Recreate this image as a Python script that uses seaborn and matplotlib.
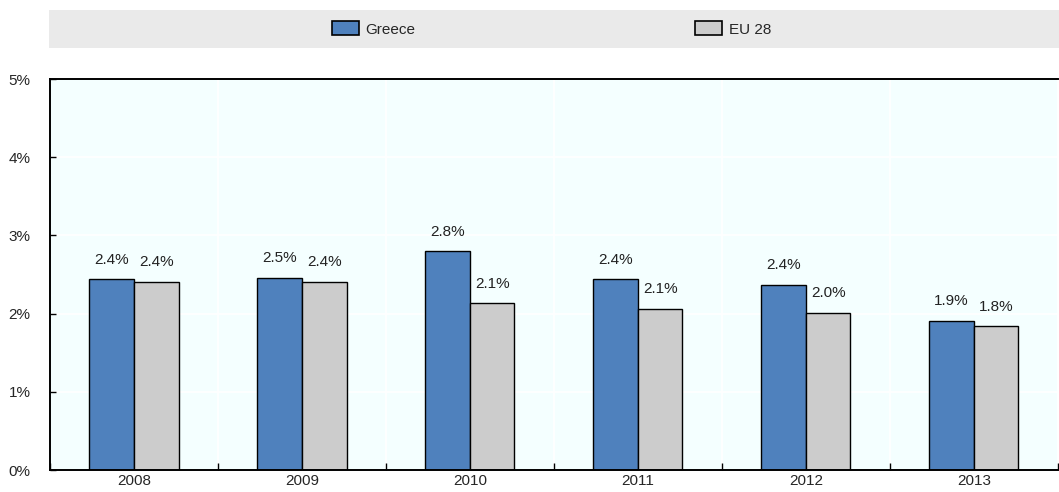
import pandas as pd
import numpy as np
import matplotlib
matplotlib.use("Agg")
import matplotlib.pyplot as plt
import matplotlib.patches as mpatches
from matplotlib.ticker import FuncFormatter, MultipleLocator
import seaborn as sns

# values (% of GDP)
years = ["2008", "2009", "2010", "2011", "2012", "2013"]
greece = [2.44, 2.46, 2.80, 2.44, 2.37, 1.91]
eu28 = [2.41, 2.41, 2.13, 2.06, 2.01, 1.84]
series_names = ["Greece", "EU 28"]
colours = ["#4F81BD", "#CCCCCC"]

df = pd.DataFrame({
    "year": years * 2,
    "value": greece + eu28,
    "series": [series_names[0]] * len(years) + [series_names[1]] * len(years),
})

sns.set_style("white")
plt.rcParams["font.family"] = ["Liberation Sans Narrow", "Liberation Sans", "DejaVu Sans"]

fig = plt.figure(figsize=(10.59, 4.92), dpi=100)
ax = fig.add_axes((50 / 1059, 22 / 492, 1 - 50 / 1059 - 0.001, (470 - 79) / 492))

ax.set_facecolor("#F4FFFF")
sns.barplot(data=df, x="year", y="value", hue="series", palette=colours,
            width=0.53, edgecolor="black", linewidth=1.0, ax=ax, legend=False,
            saturation=1)

# value labels above bars
for cont in ax.containers:
    ax.bar_label(cont, labels=[f"{v:.1f}%" for v in cont.datavalues],
                 padding=9, fontsize=11, color="#222222")

ax.set_ylim(0, 5)
ax.set_xlim(-0.5, len(years) - 0.5)
ax.yaxis.set_major_locator(MultipleLocator(1))
ax.yaxis.set_major_formatter(FuncFormatter(lambda v, p: f"{v:.0f}%"))
ax.set_xticks(np.arange(len(years) + 1) - 0.5, minor=True)
ax.set_xlabel("")
ax.set_ylabel("")

ax.grid(axis="y", which="major", color="white", linewidth=1.2)
ax.grid(axis="x", which="minor", color="white", linewidth=1.2)
ax.set_axisbelow(True)

ax.tick_params(axis="x", which="major", length=0, labelsize=11, pad=3)
ax.tick_params(axis="x", which="minor", direction="in", length=5, width=1, color="black", bottom=True)
ax.tick_params(axis="y", which="major", direction="in", length=4, width=1, color="black",
               labelsize=11, pad=14, left=True)

for side in ["left", "bottom", "top"]:
    ax.spines[side].set_color("black")
    ax.spines[side].set_linewidth(1.4)
ax.spines["right"].set_visible(False)

# grey legend band
fig.patches.append(mpatches.Rectangle((49 / 1059, 1 - 48 / 492), 1 - 49 / 1059, 38 / 492,
                                      transform=fig.transFigure, facecolor="#EAEAEA",
                                      edgecolor="none", zorder=0))
handles = [mpatches.Patch(facecolor=c, edgecolor="black", linewidth=1.2, label=n)
           for c, n in zip(colours, series_names)]
fig.legend(handles=handles, loc="center", bbox_to_anchor=(0.5206, 1 - 29 / 492), ncol=2,
           frameon=False, fontsize=11, handlelength=1.8, handleheight=1.0,
           handletextpad=0.4, columnspacing=18.3)

fig.savefig("out.png", dpi=100)
